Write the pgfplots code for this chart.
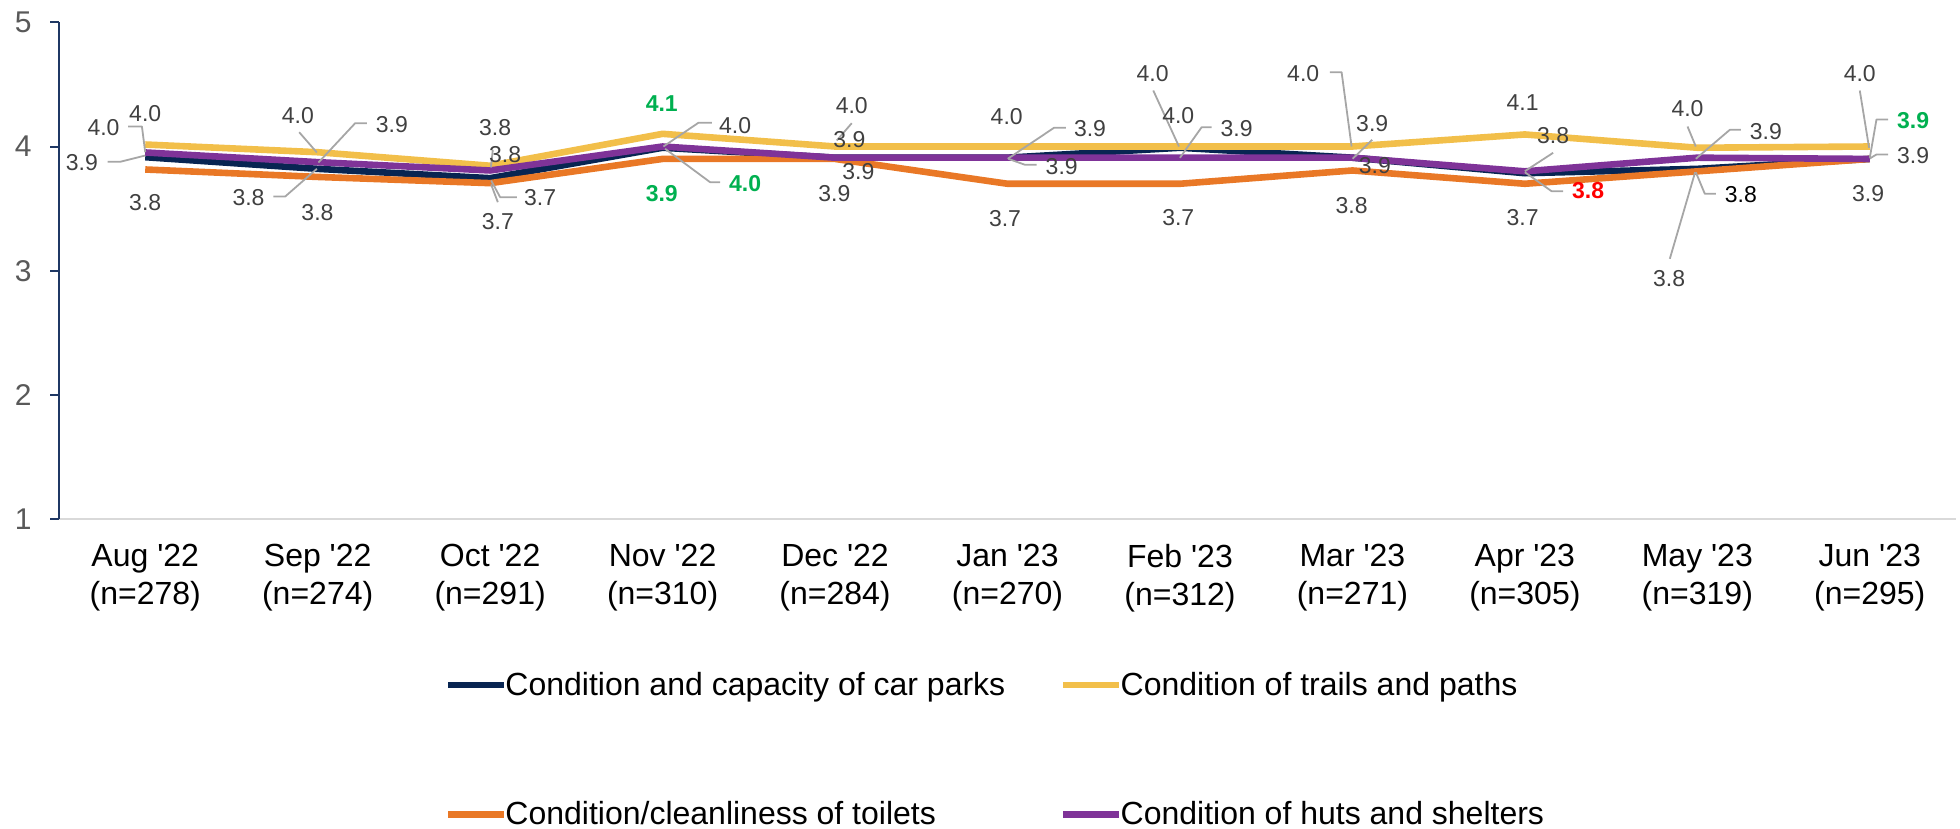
\documentclass[border=0pt]{standalone}
\usepackage{pgfplots}
\pgfplotsset{compat=1.18}
\usepackage{fontspec}
\setmainfont{Liberation Sans}
\definecolor{cnavy}{HTML}{082552}
\definecolor{cyellow}{HTML}{F2BF4A}
\definecolor{corange}{HTML}{E97826}
\definecolor{cpurple}{HTML}{7F3398}
\definecolor{labgrey}{HTML}{404040}
\definecolor{leadgrey}{HTML}{A6A6A6}
\definecolor{axnavy}{HTML}{1F3864}
\definecolor{axgrey}{HTML}{D9D9D9}
\definecolor{tickgrey}{HTML}{595959}
\definecolor{sigreen}{HTML}{00B050}
\definecolor{sigred}{HTML}{FF0000}
\tikzset{
  lab/.style={font=\fontsize{11.5bp}{13bp}\selectfont, text=labgrey, inner sep=0pt, anchor=center},
  bold/.style={font=\fontsize{11.5bp}{13bp}\selectfont\bfseries},
  lead/.style={draw=leadgrey, line width=0.9bp, line join=round},
}
\newcommand{\lbl}[4][]{\node[lab,#1] at (axis cs:{(#2-145)/172.5},{4+(146-#3)/124.2}) {#4};}
\newcommand{\ldB}[4]{\draw[lead] (axis cs:{(#1-145)/172.5},{4+(146-#2)/124.2}) -- (axis cs:{(#3-145)/172.5},{4+(146-#4)/124.2});}
\newcommand{\ldC}[6]{\draw[lead] (axis cs:{(#1-145)/172.5},{4+(146-#2)/124.2}) -- (axis cs:{(#3-145)/172.5},{4+(146-#4)/124.2}) -- (axis cs:{(#5-145)/172.5},{4+(146-#6)/124.2});}
\begin{document}
\begin{tikzpicture}
\useasboundingbox (-29.5bp,-154.95bp) rectangle (950.5bp,259.55bp);
\begin{axis}[
  at={(0,0)}, anchor=south west,
  scale only axis, width=948.5bp, height=248.4bp,
  xmin=-0.5, xmax=10.5, ymin=1, ymax=5,
  clip=false,
  axis x line*=bottom, axis y line*=left,
  x axis line style={draw=axgrey, line width=1.2bp, -},
  y axis line style={draw=axnavy, line width=1bp, -},
  tick align=outside, major tick length=4.5bp,
  xtick={0,1,2,3,4,5,6,7,8,9,10},
  xticklabels={
    {Aug \textquotesingle22\\(n=278)},
    {Sep \textquotesingle22\\(n=274)},
    {Oct \textquotesingle22\\(n=291)},
    {Nov \textquotesingle22\\(n=310)},
    {Dec \textquotesingle22\\(n=284)},
    {Jan \textquotesingle23\\(n=270)},
    {Feb \textquotesingle23\\(n=312)},
    {Mar \textquotesingle23\\(n=271)},
    {Apr \textquotesingle23\\(n=305)},
    {May \textquotesingle23\\(n=319)},
    {Jun \textquotesingle23\\(n=295)}},
  xtick style={draw=none},
  xticklabel style={align=center, font=\fontsize{16bp}{19bp}\selectfont, text=black, inner sep=0pt, anchor=north, yshift=-8bp},
  ytick={1,2,3,4,5},
  ytick style={draw=axnavy, line width=1bp},
  yticklabel style={font=\fontsize{15bp}{18bp}\selectfont, text=tickgrey, inner sep=0pt, anchor=east, xshift=-9bp, /pgf/number format/assume math mode=true},
  legend columns=2,
  legend cell align=left,
  legend image code/.code={\draw[#1, line width=3.2bp] (0bp,0bp) -- (28bp,0bp);},
  legend style={draw=none, fill=none, font=\fontsize{16bp}{19bp}\selectfont,
    at={(0.2035,-0.3078)}, anchor=north west, inner sep=0pt, outer sep=0pt,
    row sep=51.6bp, nodes={inner sep=0pt},
    /tikz/every odd column/.append style={column sep=-1bp},
    /tikz/every even column/.append style={column sep=27.5bp}},
]
\addplot[cnavy, line width=3.3bp, line join=round] coordinates {
 (0,3.914) (1,3.82) (2,3.745) (3,3.99) (4,3.91) (5,3.91) (6,3.99) (7,3.91) (8,3.785) (9,3.82) (10,3.90)};
\addlegendentry{Condition and capacity of car parks}
\addplot[cyellow, line width=3.3bp, line join=round] coordinates {
 (0,4.016) (1,3.954) (2,3.845) (3,4.102) (4,4.0) (5,4.0) (6,4.0) (7,4.0) (8,4.097) (9,3.99) (10,4.0)};
\addlegendentry{Condition of trails and paths}
\addplot[corange, line width=3.3bp, line join=round] coordinates {
 (0,3.815) (1,3.755) (2,3.705) (3,3.90) (4,3.90) (5,3.70) (6,3.70) (7,3.807) (8,3.70) (9,3.80) (10,3.90)};
\addlegendentry{Condition/cleanliness of toilets}
\addplot[cpurple, line width=3.3bp, line join=round] coordinates {
 (0,3.952) (1,3.874) (2,3.807) (3,4.0) (4,3.91) (5,3.91) (6,3.91) (7,3.91) (8,3.80) (9,3.91) (10,3.90)};
\addlegendentry{Condition of huts and shelters}
% Aug
\ldC{128}{126}{141.7}{126}{145}{151.7}
\ldC{107.3}{161.3}{120}{161.3}{145}{155}
\lbl{145}{113.3}{4.0}
\lbl{103.3}{126.7}{4.0}
\lbl{81.7}{162.3}{3.9}
\lbl{145}{201.7}{3.8}
% Sep
\ldB{299}{131.7}{316.7}{152}
\ldC{366.7}{122.7}{355}{122.7}{318.3}{162}
\ldC{273.3}{196}{285}{196}{316.7}{168.3}
\lbl{297.7}{115}{4.0}
\lbl{391.7}{124}{3.9}
\lbl{248.3}{196.7}{3.8}
\lbl{317.3}{211.7}{3.8}
% Oct
\ldB{492.7}{149.3}{490.7}{167}
\ldC{516.7}{196.7}{500}{196.7}{491}{180}
\ldB{497.7}{201.7}{491}{184}
\lbl{495}{127.3}{3.8}
\lbl{505}{154.3}{3.8}
\lbl{540}{197.3}{3.7}
\lbl{497.7}{221}{3.7}
% Nov
\ldC{711.7}{122.3}{698.3}{122.3}{663.3}{146}
\ldC{720}{181.7}{710}{181.7}{665}{148.3}
\lbl[bold,text=sigreen]{661.7}{102.7}{4.1}
\lbl{735}{125}{4.0}
\lbl[bold,text=sigreen]{745}{182.7}{4.0}
\lbl[bold,text=sigreen]{661.7}{192.7}{3.9}
% Dec
\ldB{851.7}{122.7}{836.7}{140}
\lbl{851.7}{105}{4.0}
\lbl{849.3}{139}{3.9}
\lbl{858.3}{171}{3.9}
\lbl{834.3}{192.7}{3.9}
% Jan
\ldC{1066}{127.3}{1054}{127.3}{1007.7}{158.3}
\ldC{1036.7}{164.3}{1025}{164.3}{1008.3}{158.3}
\lbl{1006.7}{116}{4.0}
\lbl{1090}{128.3}{3.9}
\lbl{1061.7}{166}{3.9}
\lbl{1005}{217.7}{3.7}
% Feb
\ldB{1153.3}{90}{1179}{146}
\ldC{1211.7}{126.7}{1201.7}{126.7}{1180}{157.3}
\lbl{1152.7}{73.3}{4.0}
\lbl{1178.3}{115}{4.0}
\lbl{1236.7}{128.3}{3.9}
\lbl{1178.3}{216.7}{3.7}
% Mar
\ldC{1330}{71.7}{1341.7}{71.7}{1351.7}{146}
\ldB{1372.3}{139.3}{1352.7}{158.3}
\lbl{1303.3}{73.3}{4.0}
\lbl{1372.3}{123.3}{3.9}
\lbl{1375}{165}{3.9}
\lbl{1351.7}{205}{3.8}
% Apr
\ldB{1553.3}{152.3}{1525}{170.7}
\ldC{1563.3}{190.7}{1551.7}{190.7}{1525}{171.7}
\lbl{1522.7}{102.3}{4.1}
\lbl{1553.3}{135}{3.8}
\lbl[bold,text=sigred]{1588.3}{190}{3.8}
\lbl{1522.7}{216.7}{3.7}
% May
\ldB{1687.7}{126}{1696}{146}
\ldC{1741}{129.3}{1730}{129.3}{1696}{158.3}
\ldC{1716}{193.3}{1705}{193.3}{1696}{171.7}
\ldB{1670}{258.3}{1695.3}{171.7}
\lbl{1687.7}{108.3}{4.0}
\lbl{1766}{130.7}{3.9}
\lbl[text=black]{1741}{194.3}{3.8}
\lbl{1669.3}{278.3}{3.8}
% Jun
\ldB{1860}{90}{1869.3}{147.3}
\ldC{1888.3}{119}{1876.7}{119}{1870}{157.3}
\ldC{1888.3}{154}{1876.7}{154}{1870}{158}
\lbl{1860}{73.3}{4.0}
\lbl[bold,text=sigreen]{1913.3}{120}{3.9}
\lbl{1913.3}{155}{3.9}
\lbl{1868.3}{192.7}{3.9}
\end{axis}
\end{tikzpicture}
\end{document}
